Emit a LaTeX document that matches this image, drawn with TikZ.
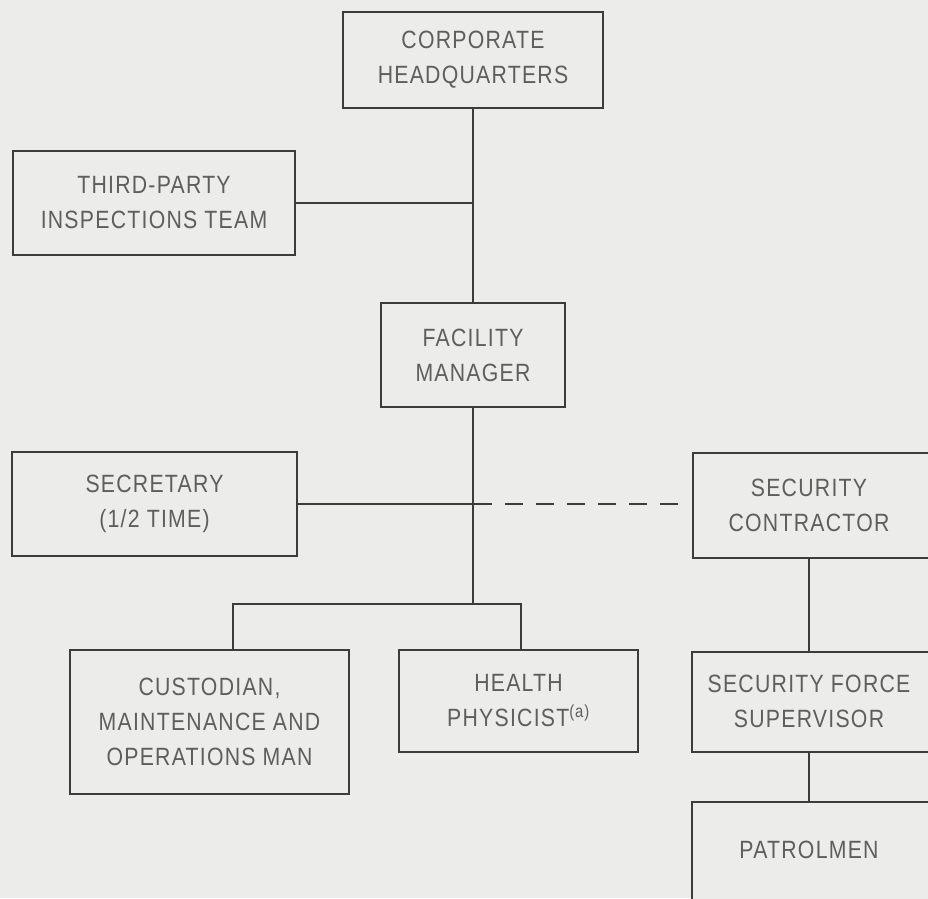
\documentclass[tikz,border=0pt]{standalone}
\usepackage{fontspec}
\setmainfont{Liberation Sans}[FakeStretch=0.85, LetterSpace=5]
\definecolor{paper}{HTML}{ECECEA}
\definecolor{ink}{HTML}{3C3C3C}
\definecolor{lettering}{HTML}{5E5E5E}
\begin{document}
\begin{tikzpicture}[x=1pt, y=-1pt,
  orgbox/.style={draw=ink, line width=1.3pt, fill=paper, inner sep=0pt,
    text=lettering, align=center, font=\fontsize{25}{35}\selectfont},
  label text/.style={text=lettering, align=center, inner sep=0pt,
    font=\fontsize{25}{35}\selectfont},
  link/.style={draw=ink, line width=1.6pt},
  dottedlink/.style={draw=ink, line width=1.6pt, dash pattern=on 18pt off 13pt}]
  % page and background
  \useasboundingbox (0,0) rectangle (928,898);
  \clip (0,0) rectangle (928,898);
  \fill[paper] (0,0) rectangle (928,898);

  % boxes
  \node[orgbox, minimum width=260pt, minimum height=96pt] (hq) at (473,60)
    {CORPORATE\\HEADQUARTERS};
  \node[orgbox, minimum width=282pt, minimum height=104pt] (tp) at (154,203)
    {THIRD-PARTY\\INSPECTIONS TEAM};
  \node[orgbox, minimum width=184pt, minimum height=104pt] (fm) at (473,355)
    {FACILITY\\MANAGER};
  \node[orgbox, minimum width=285pt, minimum height=104pt] (sec) at (154.5,504)
    {SECRETARY\\(1/2 TIME)};
  \node[orgbox, minimum width=279pt, minimum height=144pt] (cus) at (209.5,722)
    {CUSTODIAN,\\MAINTENANCE AND\\OPERATIONS MAN};
  \node[orgbox, minimum width=239pt, minimum height=102pt] (hp) at (518.5,701)
    {HEALTH\\PHYSICIST\textsuperscript{(a)}};

  % security column, running off the right edge
  \node[orgbox, minimum width=246pt, minimum height=105pt] (sc) at (816,505.5) {};
  \node[label text] (sctext) at (809,505.5) {SECURITY\\CONTRACTOR};
  \node[orgbox, minimum width=246pt, minimum height=100pt] (sfs) at (815,702) {};
  \node[label text] (sfstext) at (809,701) {SECURITY FORCE\\SUPERVISOR};
  \node[orgbox, minimum width=246pt, minimum height=108pt] (pat) at (815,856) {};
  \node[label text] (pattext) at (809,850) {PATROLMEN};

  % junction points
  \coordinate (bus) at (473,604);
  \coordinate (cusjoin) at (233,604);
  \coordinate (hpjoin) at (521,604);

  % connectors
  \draw[link] (hq.south) -- (fm.north);
  \draw[link] (tp.east) -- (tp.east -| hq.south);
  \draw[link] (fm.south) -- (bus);
  \draw[link] (sec.east) -- (sec.east -| fm.south);
  \draw[dottedlink] ([xshift=0.8pt]sec.east -| fm.south) -- ([xshift=-14pt]sec.east -| sc.west);
  \draw[link] (cus.north -| cusjoin) -- (cusjoin) -- (hpjoin) -- (hp.north -| hpjoin);
  \draw[link] (sc.south -| sctext) -- (sfs.north -| sctext);
  \draw[link] (sfs.south -| sfstext) -- (pat.north -| pattext);
\end{tikzpicture}
\end{document}
